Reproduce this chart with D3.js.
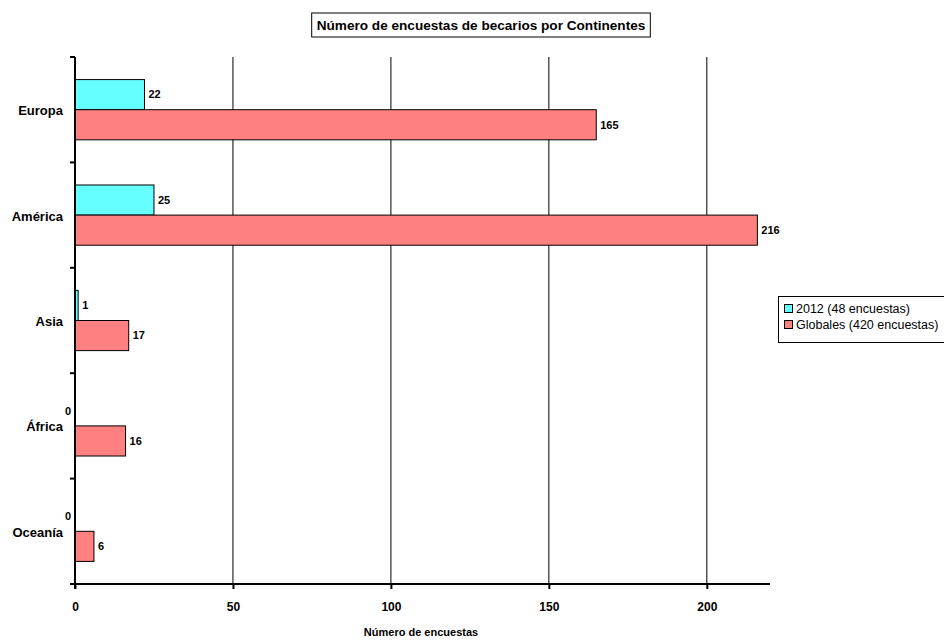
<!DOCTYPE html>
<html><head><meta charset="utf-8">
<script src="https://cdn.jsdelivr.net/npm/d3@7"></script>
<style>body{margin:0;background:#fff;}svg{display:block;font-family:"Liberation Sans",Arial,sans-serif;}</style>
</head><body>
<svg id="c" width="944" height="641"></svg>
<script>
const categories = ["Europa","América","Asia","África","Oceanía"];
const series2012 = [22,25,1,0,0];
const seriesGlobal = [165,216,17,16,6];
const seriesNames = ["2012 (48 encuestas)","Globales (420 encuestas)"];
const xTicks = [0,50,100,150,200];
const colors = ["#66FFFF","#FF8080"];

(function(){
const svg = d3.select("#c");
const mL = 75, mR = 770, mT = 57, mB = 584;
const x = d3.scaleLinear().domain([0,220]).range([mL,mR]);
const y = d3.scaleBand().domain(categories).range([mT,mB]);
const inner = d3.scaleBand().domain([0,1]).range([0,y.bandwidth()]).paddingOuter(0.75).paddingInner(0);

// gridlines
svg.append("g").selectAll("line").data(xTicks.filter(d=>d>0)).join("line")
  .attr("x1",d=>x(d)).attr("x2",d=>x(d)).attr("y1",mT).attr("y2",mB)
  .attr("stroke","#000").attr("stroke-width",1);

const series = [series2012, seriesGlobal];
series.forEach((vals,si)=>{
  const g = svg.append("g");
  g.selectAll("rect").data(categories).join("rect")
    .attr("x",x(0)).attr("y",c=>y(c)+inner(si))
    .attr("width",(c,i)=>x(vals[i])-x(0)).attr("height",inner.bandwidth())
    .attr("fill",colors[si]).attr("stroke","#000").attr("stroke-width",1)
    .attr("display",(c,i)=>vals[i]===0?"none":null);
  g.selectAll("text").data(categories).join("text")
    .attr("x",(c,i)=>vals[i]===0 ? x(0)-4 : x(vals[i])+4)
    .attr("y",c=>y(c)+inner(si)+inner.bandwidth()/2)
    .attr("dy","0.35em")
    .attr("text-anchor",(c,i)=>vals[i]===0?"end":"start")
    .attr("font-size",11).attr("font-weight","bold")
    .text((c,i)=>vals[i]);
});

// x axis
const xa = svg.append("g").attr("transform",`translate(0,${mB})`)
  .call(d3.axisBottom(x).tickValues(xTicks).tickSize(5).tickSizeOuter(0).tickPadding(13));
xa.select(".domain").attr("d",`M${mL-5},0H${mR}`).attr("stroke-width",2);
xa.selectAll(".tick line").attr("stroke-width",2);
xa.selectAll("text").attr("font-size",12).attr("font-weight","bold").attr("font-family","Liberation Sans, Arial, sans-serif");

// y axis
const ya = svg.append("g").attr("transform",`translate(${mL},0)`);
ya.append("line").attr("x1",0).attr("x2",0).attr("y1",mT).attr("y2",mB+5).attr("stroke","#000").attr("stroke-width",2);
ya.selectAll("line.t").data(d3.range(categories.length)).join("line").attr("class","t")
  .attr("x1",-5).attr("x2",0).attr("y1",i=>y(categories[i])).attr("y2",i=>y(categories[i]))
  .attr("stroke","#000").attr("stroke-width",2);
ya.selectAll("text").data(categories).join("text")
  .attr("x",-12).attr("y",c=>y(c)+y.bandwidth()/2+1).attr("dy","0.35em")
  .attr("text-anchor","end").attr("font-size",13).attr("font-weight","bold").text(c=>c);

// title
const tg = svg.append("g");
const tt = tg.append("text").attr("x",481).attr("y",25).attr("dy","0.35em").attr("text-anchor","middle")
  .attr("font-size",13.6).attr("font-weight","bold").text("Número de encuestas de becarios por Continentes");
const bb = tt.node().getBBox();
tg.insert("rect","text").attr("x",bb.x-5).attr("y",13).attr("width",bb.width+10).attr("height",24)
  .attr("fill","none").attr("stroke","#000").attr("stroke-width",1);

// x axis title
svg.append("text").attr("x",421).attr("y",632).attr("dy","0.35em").attr("text-anchor","middle")
  .attr("font-size",11).attr("font-weight","bold").text("Número de encuestas");

// legend
const lg = svg.append("g");
lg.append("rect").attr("x",778.5).attr("y",296.5).attr("width",170).attr("height",46).attr("fill","none").attr("stroke","#000");
seriesNames.forEach((n,i)=>{
  lg.append("rect").attr("x",784.5).attr("y",304.5+i*16).attr("width",8).attr("height",8).attr("fill",colors[i]).attr("stroke","#000");
  lg.append("text").attr("x",796).attr("y",309+i*16).attr("dy","0.35em").attr("font-size",12.5).text(n);
});
})();
</script>
</body></html>
